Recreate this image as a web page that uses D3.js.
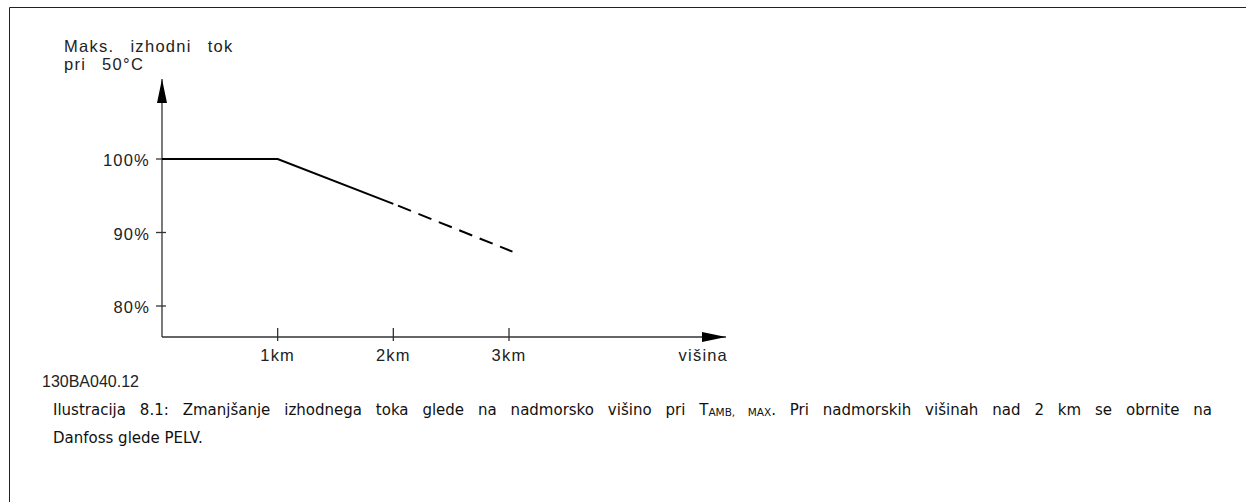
<!DOCTYPE html>
<html>
<head>
<meta charset="utf-8">
<script src="https://cdn.jsdelivr.net/npm/d3@7"></script>
<style>
  html, body { margin: 0; padding: 0; background: #fff; }
  svg { display: block; }
</style>
</head>
<body>
<svg id="chart" width="1246" height="502"></svg>
<script>
// Derating curve: output current vs. altitude
const altitudeKm = [0, 1, 2, 3.03];
const currentPct = [100, 100, 93.9, 87.4];
const solidUntilKm = 2;            // beyond this altitude the curve is dashed
const xTickValues = [1, 2, 3];
const xTickLabels = ["1km", "2km", "3km"];
const yTickValues = [100, 90, 80];
const yTickLabels = ["100%", "90%", "80%"];
const yTitleLines = ["Maks. izhodni tok", "pri 50°C"];
const xTitle = "višina";
const figureCode = "130BA040.12";

const svg = d3.select("#chart");
const ink = "#000";
const plotFont = "'Liberation Sans', Arial, sans-serif";
const capFont = "'DejaVu Sans', Verdana, sans-serif";
const plotSize = 16.5;

// frame lines (top and left)
svg.append("line").attr("x1", 9.5).attr("y1", 7.5).attr("x2", 1246).attr("y2", 7.5)
  .attr("stroke", "#222").attr("stroke-width", 1);
svg.append("line").attr("x1", 9.5).attr("y1", 7.5).attr("x2", 9.5).attr("y2", 502)
  .attr("stroke", "#222").attr("stroke-width", 1);

const x = d3.scaleLinear().domain([0, 3]).range([162, 509]);
const y = d3.scaleLinear().domain([80, 100]).range([306, 159]);
const axisY = 337;
const axisXEnd = 726;
const axisYTop = 79;

// arrowhead
svg.append("defs").append("marker")
  .attr("id", "arrow").attr("viewBox", "0 0 24 10").attr("refX", 24).attr("refY", 5)
  .attr("markerWidth", 24).attr("markerHeight", 10).attr("markerUnits", "userSpaceOnUse")
  .attr("orient", "auto")
  .append("path").attr("d", "M0,0 L24,5 L0,10 Z").attr("fill", ink);

// axes
const axes = svg.append("g").attr("stroke", "#333").attr("stroke-width", 1.3).attr("fill", "none");
axes.append("line").attr("x1", x(0)).attr("y1", axisY).attr("x2", axisXEnd).attr("y2", axisY)
  .attr("marker-end", "url(#arrow)");
axes.append("line").attr("x1", x(0)).attr("y1", axisY).attr("x2", x(0)).attr("y2", axisYTop)
  .attr("marker-end", "url(#arrow)");

const label = (sel) => sel.attr("font-family", plotFont).attr("font-size", plotSize)
  .attr("letter-spacing", 1.2).attr("fill", "#222");

// x ticks
xTickValues.forEach((v, i) => {
  axes.append("line").attr("x1", x(v)).attr("x2", x(v)).attr("y1", axisY - 9).attr("y2", axisY + 4);
  svg.append("text").attr("x", x(v)).attr("y", axisY + 24)
    .attr("text-anchor", "middle").call(label).text(xTickLabels[i]);
});
svg.append("text").attr("x", axisXEnd + 2).attr("y", axisY + 24)
  .attr("text-anchor", "end").call(label).text(xTitle);

// y ticks
yTickValues.forEach((v, i) => {
  axes.append("line").attr("x1", x(0) - 6).attr("x2", x(0) + 4).attr("y1", y(v)).attr("y2", y(v));
  svg.append("text").attr("x", x(0) - 12).attr("y", y(v) + 7)
    .attr("text-anchor", "end").call(label).text(yTickLabels[i]);
});

// y title
yTitleLines.forEach((t, i) => {
  svg.append("text").attr("x", 64).attr("y", 52 + i * 18)
    .call(label).attr("letter-spacing", 1.3).attr("word-spacing", 10).text(t);
});

// curve: solid part and dashed continuation
const pts = altitudeKm.map((a, i) => ({ a, p: currentPct[i] }));
const line = d3.line().x(d => x(d.a)).y(d => y(d.p));
const solid = pts.filter(d => d.a <= solidUntilKm);
const dashed = pts.filter(d => d.a >= solidUntilKm);
svg.append("path").datum(solid).attr("d", line)
  .attr("fill", "none").attr("stroke", ink).attr("stroke-width", 2);
svg.append("path").datum(dashed).attr("d", line)
  .attr("fill", "none").attr("stroke", ink).attr("stroke-width", 2)
  .attr("stroke-dasharray", "14,8").attr("stroke-dashoffset", -5);

// figure code
svg.append("text").attr("x", 42).attr("y", 387)
  .attr("font-family", plotFont).attr("font-size", 16).attr("letter-spacing", 0)
  .attr("fill", "#222").text(figureCode);

// caption, first line justified between the margins
const cap = svg.append("g").attr("font-family", capFont).attr("font-size", 15).attr("fill", "#111");
const line1 = cap.append("text").attr("x", 53).attr("y", 415);
line1.append("tspan").text("Ilustracija 8.1: Zmanjšanje izhodnega toka glede na nadmorsko višino pri T");
line1.append("tspan").attr("font-size", 10.5).attr("dy", 1).text("AMB, MAX");
line1.append("tspan").attr("dy", -1).text(". Pri nadmorskih višinah nad 2 km se obrnite na");
const targetW = 1212 - 53;
const w = line1.node().getComputedTextLength();
const gaps = (line1.text().match(/ /g) || []).length;
if (gaps > 0) line1.attr("word-spacing", Math.max(0, (targetW - w) / gaps));
cap.append("text").attr("x", 53).attr("y", 443).text("Danfoss glede PELV.");
</script>
</body>
</html>
